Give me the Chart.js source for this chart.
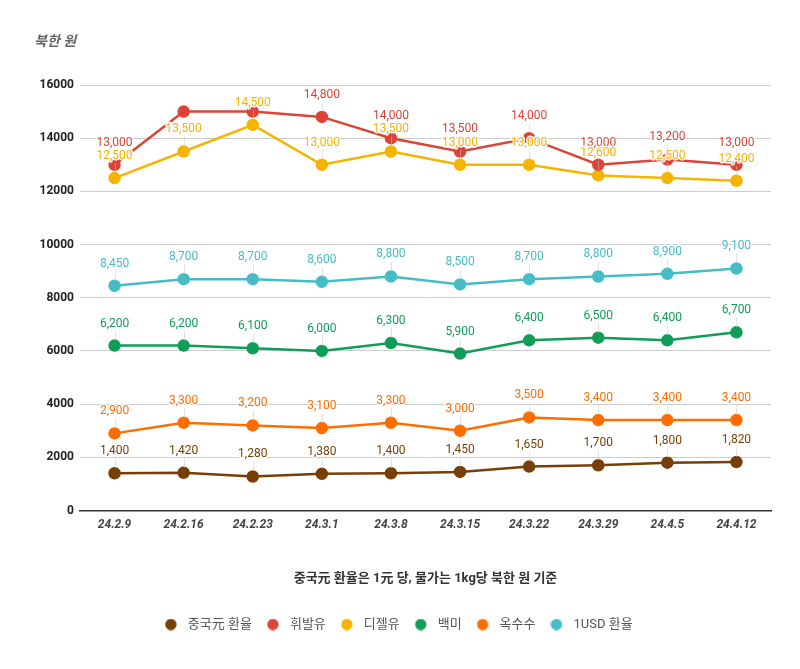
<!DOCTYPE html>
<html>
<head>
<meta charset="utf-8">
<script src="https://cdn.jsdelivr.net/npm/chart.js@4/dist/chart.umd.min.js"></script>
<style>
  html, body { margin: 0; padding: 0; background: #fff; }
  #wrap { width: 800px; height: 669px; position: relative; }
</style>
</head>
<body>
<div id="wrap"><canvas id="c"></canvas></div>
<script>
const categories = ['24.2.9','24.2.16','24.2.23','24.3.1','24.3.8','24.3.15','24.3.22','24.3.29','24.4.5','24.4.12'];
const seriesNames = ['중국元 환율','휘발유','디젤유','백미','옥수수','1USD 환율'];
const cnyRate  = [1400,1420,1280,1380,1400,1450,1650,1700,1800,1820];
const gasoline = [13000,15000,15000,14800,14000,13500,14000,13000,13200,13000];
const diesel   = [12500,13500,14500,13000,13500,13000,13000,12600,12500,12400];
const rice     = [6200,6200,6100,6000,6300,5900,6400,6500,6400,6700];
const corn     = [2900,3300,3200,3100,3300,3000,3500,3400,3400,3400];
const usdRate  = [8450,8700,8700,8600,8800,8500,8700,8800,8900,9100];
const yTicks   = [0,2000,4000,6000,8000,10000,12000,14000,16000];
const unitLabel = '북한 원';
const xTitle = '중국元 환율은 1元 당, 물가는 1kg당 북한 원 기준';
// labels not shown in the reference (series index -> point indices)
const hiddenLabels = {1: [1, 2]};

const colors = ['#783f04','#db4437','#f4b400','#0f9d58','#ff6d01','#46bdc6'];
const values = [cnyRate, gasoline, diesel, rice, corn, usdRate];

Chart.defaults.font.family = "Roboto, 'Noto Sans CJK KR', 'Noto Sans', sans-serif";

function legendDot(color) {
  const cv = document.createElement('canvas');
  cv.width = 20; cv.height = 12;
  const c = cv.getContext('2d');
  c.fillStyle = color;
  c.beginPath();
  c.arc(6, 6, 5.7, 0, Math.PI * 2);
  c.fill();
  return cv;
}

const labelPlugin = {
  id: 'pointLabels',
  afterDatasetsDraw(chart) {
    const ctx = chart.ctx;
    ctx.save();
    ctx.font = "12px Roboto, 'Noto Sans CJK KR', sans-serif";
    ctx.textAlign = 'center';
    ctx.textBaseline = 'middle';
    chart.data.datasets.forEach((ds, di) => {
      const meta = chart.getDatasetMeta(di);
      meta.data.forEach((pt, i) => {
        if (hiddenLabels[di] && hiddenLabels[di].includes(i)) return;
        const ly = pt.y - 22;
        ctx.strokeStyle = 'rgba(200,200,200,0.5)';
        ctx.lineWidth = 1;
        ctx.beginPath();
        ctx.moveTo(Math.round(pt.x) + 0.5, ly + 7);
        ctx.lineTo(Math.round(pt.x) + 0.5, pt.y - 5);
        ctx.stroke();
      });
    });
    chart.data.datasets.forEach((ds, di) => {
      const meta = chart.getDatasetMeta(di);
      meta.data.forEach((pt, i) => {
        if (hiddenLabels[di] && hiddenLabels[di].includes(i)) return;
        const txt = ds.data[i].toLocaleString('en-US');
        const ly = pt.y - 22;
        ctx.lineWidth = 3;
        ctx.strokeStyle = 'rgba(255,255,255,0.9)';
        ctx.lineJoin = 'round';
        ctx.strokeText(txt, pt.x, ly);
        ctx.fillStyle = ds.borderColor;
        ctx.fillText(txt, pt.x, ly);
      });
    });
    // unit label top-left
    ctx.font = "italic bold 14px Roboto, 'Noto Sans CJK KR', sans-serif";
    ctx.fillStyle = '#666';
    ctx.textAlign = 'left';
    ctx.fillText(unitLabel, 34, 42);
    ctx.restore();
  }
};

new Chart(document.getElementById('c'), {
  type: 'line',
  data: {
    labels: categories,
    datasets: seriesNames.map((n, k) => ({
      label: n,
      data: values[k],
      borderColor: colors[k],
      backgroundColor: colors[k],
      pointBackgroundColor: colors[k],
      pointBorderColor: colors[k],
      borderWidth: 2.5,
      pointRadius: 5,
      pointHoverRadius: 5,
      tension: 0,
      fill: false
    }))
  },
  options: {
    responsive: true,
    maintainAspectRatio: false,
    animation: false,
    layout: { padding: { left: 30, right: 29, top: 85, bottom: 28 } },
    plugins: {
      legend: {
        position: 'bottom',
        labels: {
          usePointStyle: true,
          boxWidth: 13,
          boxHeight: 13,
          padding: 18.5,
          color: '#555',
          font: { size: 13 },
          generateLabels(chart) {
            const items = Chart.defaults.plugins.legend.labels.generateLabels(chart);
            items.forEach(it => { it.pointStyle = legendDot(colors[it.datasetIndex]); });
            return items;
          }
        }
      },
      tooltip: { enabled: false }
    },
    scales: {
      x: {
        offset: true,
        grid: { display: false, drawTicks: false },
        border: { display: true, color: '#333', width: 1.5 },
        ticks: { color: '#444', padding: 7, font: { size: 12, weight: 'bold', style: 'italic' } },
        title: {
          display: true,
          text: xTitle,
          color: '#333',
          font: { size: 13, weight: 'bold' },
          padding: { top: 32, bottom: 13 }
        }
      },
      y: {
        min: 0,
        max: 16000,
        afterFit(scale) { scale.width = 50; },
        afterBuildTicks(scale) { scale.ticks = yTicks.map(v => ({ value: v })); },
        grid: { color: '#ccc', drawTicks: false },
        border: { display: false },
        ticks: {
          color: '#222',
          padding: 6,
          font: { size: 12, weight: 'bold' },
          callback: v => String(v)
        }
      }
    }
  },
  plugins: [labelPlugin]
});
</script>
</body>
</html>
